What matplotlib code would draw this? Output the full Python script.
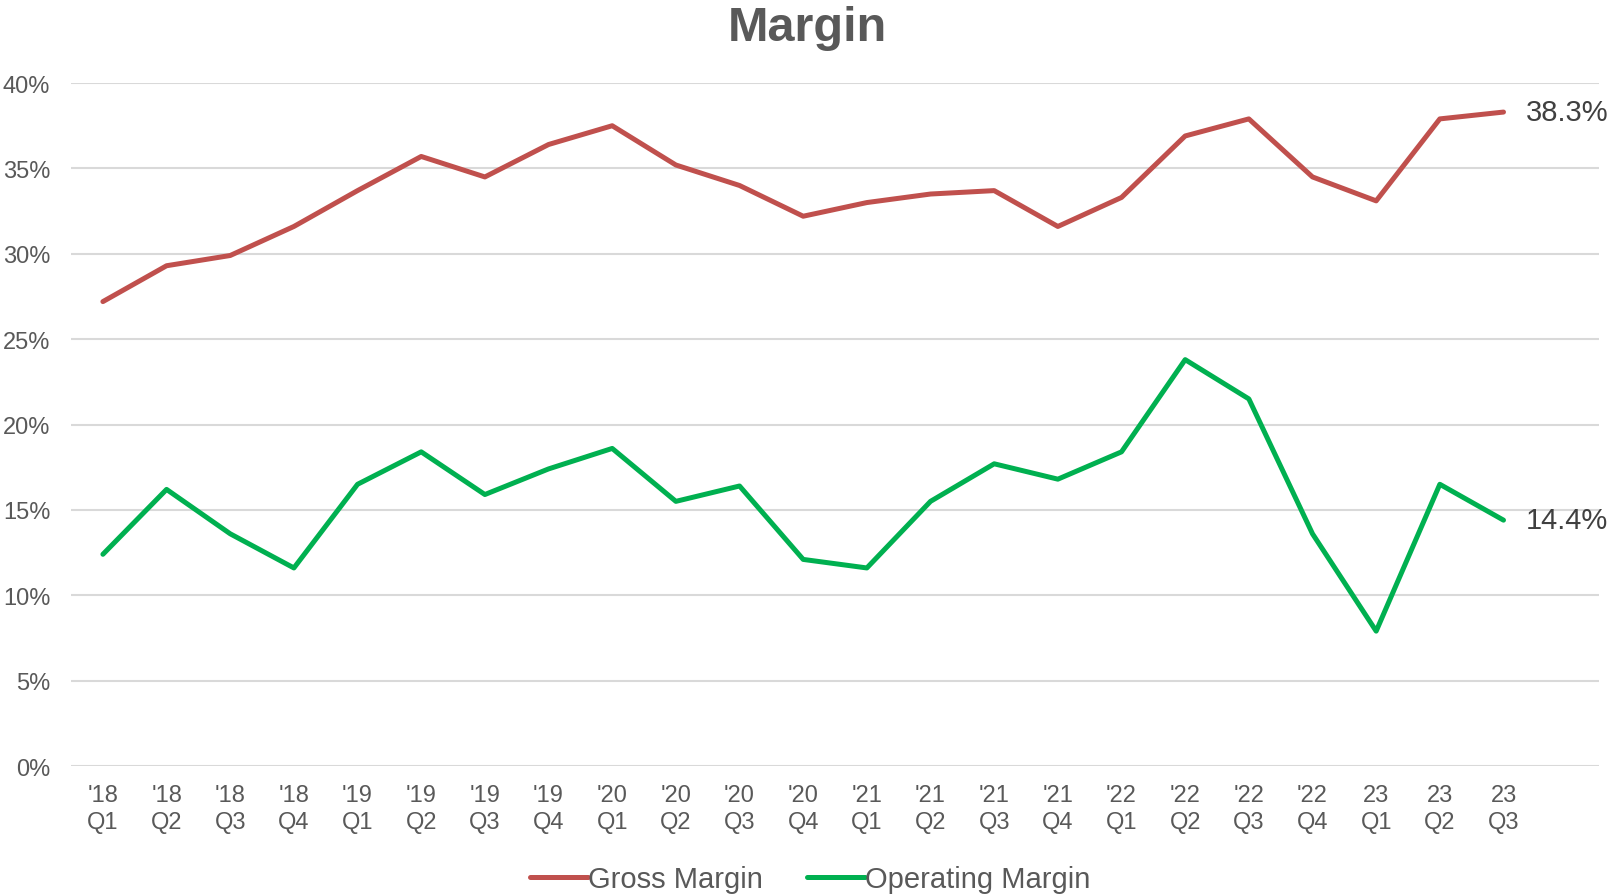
import matplotlib.pyplot as plt
from matplotlib.ticker import PercentFormatter

# --- data ---
quarters = ["'18\nQ1", "'18\nQ2", "'18\nQ3", "'18\nQ4",
            "'19\nQ1", "'19\nQ2", "'19\nQ3", "'19\nQ4",
            "'20\nQ1", "'20\nQ2", "'20\nQ3", "'20\nQ4",
            "'21\nQ1", "'21\nQ2", "'21\nQ3", "'21\nQ4",
            "'22\nQ1", "'22\nQ2", "'22\nQ3", "'22\nQ4",
            "23\nQ1", "23\nQ2", "23\nQ3"]

gross_margin = [27.2, 29.3, 29.9, 31.6, 33.7, 35.7, 34.5, 36.4,
                37.5, 35.2, 34.0, 32.2, 33.0, 33.5, 33.7, 31.6,
                33.3, 36.9, 37.9, 34.5, 33.1, 37.9, 38.3]

operating_margin = [12.4, 16.2, 13.6, 11.6, 16.5, 18.4, 15.9, 17.4,
                    18.6, 15.5, 16.4, 12.1, 11.6, 15.5, 17.7, 16.8,
                    18.4, 23.8, 21.5, 13.6, 7.9, 16.5, 14.4]

RED = '#C0504D'
GREEN = '#00B050'
TEXT = '#595959'

plt.rcParams['font.family'] = ['Liberation Sans', 'DejaVu Sans']

fig = plt.figure(figsize=(16.08, 8.95), dpi=100)
ax = fig.add_axes([0.0442, 0.143, 0.9502, 0.7631])

x = list(range(len(quarters)))
ax.plot(x, gross_margin, color=RED, lw=3.6, label='Gross Margin',
        solid_capstyle='round', solid_joinstyle='round', zorder=3)
ax.plot(x, operating_margin, color=GREEN, lw=3.6, label='Operating Margin',
        solid_capstyle='round', solid_joinstyle='round', zorder=3)

# end labels
for series in (gross_margin, operating_margin):
    ax.annotate(f'{series[-1]:.1f}%', (x[-1], series[-1]),
                xytext=(16, 0), textcoords='offset points',
                va='center', ha='left', fontsize=21, color='#404040',
                annotation_clip=False)

ax.set_xlim(-0.5, len(quarters) + 0.5)
ax.set_ylim(0, 40)
ax.set_yticks(range(0, 41, 5))
ax.yaxis.set_major_formatter(PercentFormatter(decimals=0))
ax.set_xticks(x)
ax.set_xticklabels(quarters, linespacing=1.3)

ax.grid(axis='y', color='#D9D9D9', lw=1.5, zorder=0)
ax.set_axisbelow(True)
for s in ax.spines.values():
    s.set_visible(False)
ax.tick_params(axis='both', length=0, labelsize=17, colors=TEXT)
ax.tick_params(axis='y', pad=15)
ax.tick_params(axis='x', pad=13)

fig.suptitle('Margin', x=0.502, y=0.993, fontsize=35, fontweight='bold',
             color=TEXT, va='top')

fig.legend(loc='center', bbox_to_anchor=(0.504, 0.017), ncol=2, frameon=False,
           fontsize=21, handlelength=2.0, handletextpad=0.0,
           columnspacing=1.5, labelcolor=TEXT)

fig.savefig('out.png', dpi=100)
